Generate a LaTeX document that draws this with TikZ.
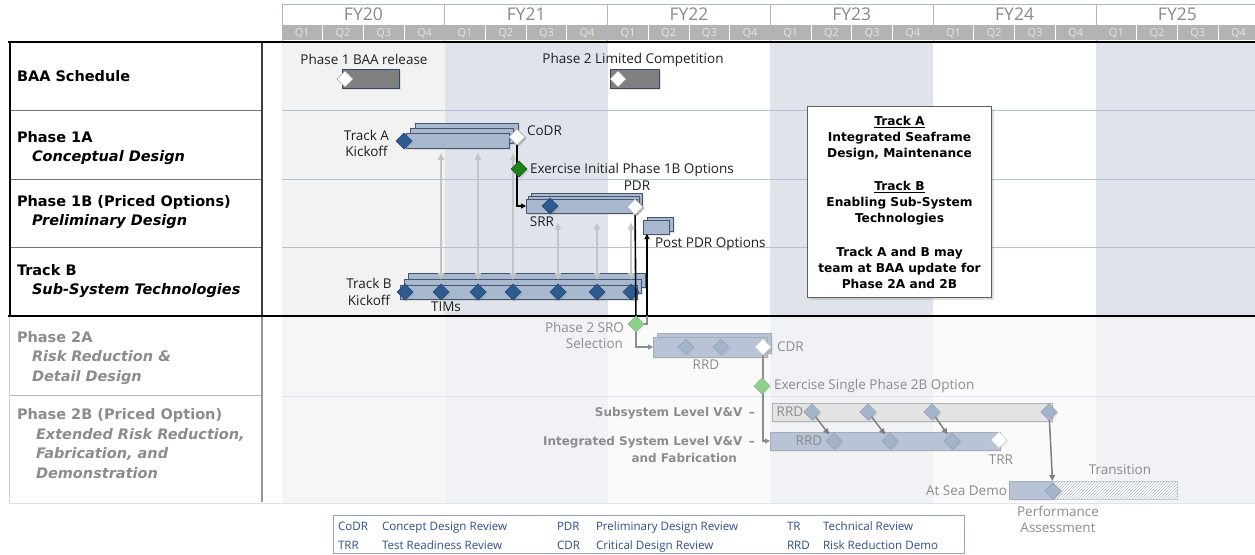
\documentclass[tikz,border=0pt]{standalone}
\usepackage{fontspec}
\setmainfont{Open Sans}
\newfontfamily\labfam{DejaVu Sans}
\usetikzlibrary{shapes.geometric,arrows.meta,shadows,patterns,calc}

% palette
\definecolor{inkA}{HTML}{1F1F1F}
\definecolor{inkF}{HTML}{8C8C8C}
\definecolor{bgGrey}{HTML}{F2F2F2}
\definecolor{bgBlue}{HTML}{DFE4EC}
\definecolor{bgGreyF}{HTML}{F6F6F6}
\definecolor{bgBlueF}{HTML}{F0F2F6}
\definecolor{bgWhiteF}{HTML}{FAFAFA}
\definecolor{gridB}{HTML}{B4C0D3}
\definecolor{gridF}{HTML}{DDE3EC}
\definecolor{hdrLine}{HTML}{A9B6C9}
\definecolor{hdrQ}{HTML}{B3B3B3}
\definecolor{hdrTxt}{HTML}{8A8A8A}
\definecolor{qTxt}{HTML}{E4E4E4}
\definecolor{barFill}{HTML}{A8B8CF}
\definecolor{barEdge}{HTML}{44556D}
\definecolor{baaFill}{HTML}{808080}
\definecolor{baaEdge}{HTML}{34496A}
\definecolor{msBlue}{HTML}{2E5B90}
\definecolor{msBlueEdge}{HTML}{214670}
\definecolor{msGreen}{HTML}{1D7F1D}
\definecolor{fBarFill}{HTML}{B8C4D5}
\definecolor{fBarEdge}{HTML}{A4ADBA}
\definecolor{fDiamond}{HTML}{A3B3CA}
\definecolor{fGreen}{HTML}{8DCF8D}
\definecolor{subFill}{HTML}{E3E3E3}
\definecolor{subEdge}{HTML}{B3B3B3}
\definecolor{timGrey}{HTML}{C4C4C4}
\definecolor{linkGrey}{HTML}{8E8E8E}
\definecolor{feedGrey}{HTML}{7F7F7F}
\definecolor{legInk}{HTML}{2F4E8C}
\definecolor{legEdge}{HTML}{8FA3C4}
\definecolor{boxEdge}{HTML}{5E5E5E}
\definecolor{hatchEdge}{HTML}{C3CAD6}
\definecolor{hatchInk}{HTML}{B0BCCD}

\tikzset{
  every node/.style={inner sep=0pt, outer sep=0pt},
  ctext/.style={font=\fontsize{13.5pt}{16pt}\selectfont, text height=9.6pt, text depth=0pt, text=inkA},
  ftext/.style={ctext, text=inkF},
  hdr/.style={font=\fontsize{17.5pt}{20pt}\selectfont, text height=12.5pt, text depth=0pt, text=hdrTxt},
  qtxt/.style={font=\fontsize{11pt}{13pt}\selectfont, text height=7.9pt, text depth=0pt, text=qTxt},
  lab/.style={font=\labfam\bfseries\fontsize{14.5pt}{17pt}\selectfont, text height=10.6pt, text depth=0pt, anchor=west, text=black},
  labit/.style={lab, font=\labfam\bfseries\itshape\fontsize{14.5pt}{17pt}\selectfont},
  flab/.style={lab, text=inkF},
  flabit/.style={labit, text=inkF},
  vvtext/.style={font=\labfam\bfseries\fontsize{12pt}{14pt}\selectfont, text height=8.8pt, text depth=0pt, text=inkF, anchor=east},
  notetext/.style={font=\labfam\bfseries\fontsize{12.2pt}{15pt}\selectfont, text height=8.9pt, text depth=0pt, text=black},
  legtext/.style={font=\fontsize{11.6pt}{14pt}\selectfont, text height=8.3pt, text depth=0pt, text=legInk, anchor=west},
  % milestones
  shade/.style={drop shadow={opacity=0.25, shadow xshift=1.5pt, shadow yshift=-1.5pt}},
  fshade/.style={drop shadow={opacity=0.10, shadow xshift=1.5pt, shadow yshift=-1.5pt}},
  ms/.style={shape=diamond, minimum width=16pt, minimum height=16pt},
  msBlueD/.style={ms, shade, fill=msBlue, draw=msBlueEdge, line width=0.6pt},
  msWhiteD/.style={ms, shade, fill=white, draw=gray!70, line width=0.6pt},
  msGreenD/.style={ms, shade, fill=msGreen, draw=msGreen!80!black, line width=0.6pt},
  msFadeD/.style={ms, fshade, fill=fDiamond, draw=fDiamond!92!black, line width=0.6pt},
  msFadeWhite/.style={ms, fshade, fill=white, draw=gray!35, line width=0.6pt},
  msFadeGreen/.style={ms, fshade, fill=fGreen, draw=fGreen!92!black, line width=0.6pt},
  % bars
  barA/.style={fill=barFill, draw=barEdge, line width=0.7pt, drop shadow={opacity=0.18, shadow xshift=2pt, shadow yshift=-2pt}},
  barBAA/.style={fill=baaFill, draw=baaEdge, line width=0.7pt, drop shadow={opacity=0.2, shadow xshift=2pt, shadow yshift=-2pt}},
  barF/.style={fill=fBarFill, draw=fBarEdge, line width=0.7pt, fshade},
  barSub/.style={fill=subFill, draw=subEdge, line width=0.7pt, fshade},
  hatchbar/.style={preaction={fill=white}, pattern=north east lines, pattern color=hatchInk, draw=hatchEdge, line width=0.7pt},
  % connectors
  conn/.style={line width=1.6pt, draw=black, -{Triangle[length=5pt,width=5pt]}},
  connF/.style={line width=1.5pt, draw=linkGrey, -{Triangle[length=5pt,width=5pt]}},
  timlink/.style={line width=1.8pt, draw=timGrey, {Triangle[length=7pt,width=6pt]}-{Triangle[length=7pt,width=6pt]}},
  feedlink/.style={line width=1.5pt, draw=feedGrey, -{Triangle[length=6pt,width=5.5pt]}},
}

% a single bar as a node, from its top-left to its bottom-right corner
\newcommand\plainbar[6]{%
  \node[#6, anchor=north west, minimum width={(#4-#2)*1pt}, minimum height={(#5-#3)*1pt}] (#1) at (#2,#3) {};}
% a bar with copies stacked behind it, each shifted right by #6 and up by #7
\newcommand\stackbar[9]{%
  \foreach \k in {#8,...,1}{%
    \draw[#9] ({#2+\k*#6},{#3-\k*#7}) rectangle ({#4+\k*#6},{#5-\k*#7});}%
  \plainbar{#1}{#2}{#3}{#4}{#5}{#9}}

\begin{document}
\begin{tikzpicture}[x=1pt, y=-1pt]
\useasboundingbox (0,0) rectangle (1255,554);
\fill[white] (0,0) rectangle (1255,554);

% ---- year shading, active rows
\fill[bgGrey]  (282,42) rectangle (444.8,316);
\fill[bgBlue]  (444.8,42) rectangle (607.6,316);
\fill[bgBlue]  (770.4,42) rectangle (933.2,316);
\fill[bgBlue]  (1096,42) rectangle (1260,316);
% ---- year shading, later phases
\fill[bgGreyF]  (282,316) rectangle (444.8,503);
\fill[bgBlueF]  (444.8,316) rectangle (607.6,503);
\fill[bgWhiteF] (607.6,316) rectangle (770.4,503);
\fill[bgBlueF]  (770.4,316) rectangle (933.2,503);
\fill[bgWhiteF] (933.2,316) rectangle (1096,503);
\fill[bgBlueF]  (1096,316) rectangle (1260,503);

% ---- row grid
\foreach \y in {110.5,179,247.5}{
  \draw[gridB, line width=0.8pt] (282,\y) -- (1255,\y);
  \draw[black!55, line width=0.9pt] (9.5,\y) -- (262,\y);
}
\draw[gridF, line width=0.8pt] (282,396) -- (1255,396);
\draw[black!28, line width=0.9pt] (9,395) -- (262,395);
\draw[gridF, line width=0.9pt] (9,503.5) -- (1255,503.5);
\draw[black!18, line width=0.9pt] (9,316) -- (9,503.5);
\draw[black!40, line width=1.1pt] (262,316) -- (262,502);

% ---- timeline header
\foreach \i in {0,...,5}{
  \pgfmathsetmacro\xa{282+162.8*\i}
  \pgfmathsetmacro\xb{\xa+162.8}
  \pgfmathsetmacro\xc{\xa+81.4}
  \pgfmathtruncatemacro\yr{20+\i}
  \draw[fill=white, draw=hdrLine, line width=0.8pt] (\xa,4.5) rectangle (\xb,24.5);
  \node[hdr] (fy\yr) at (\xc,14) {FY\yr};
  \foreach \q in {1,...,4}{
    \pgfmathsetmacro\qa{\xa+40.7*(\q-1)}
    \draw[fill=hdrQ, draw=white, line width=1pt] (\qa,24.5) rectangle ++(40.7,16);
    \node[qtxt] (q\yr\q) at (\qa+20.35,32.5) {Q\q};
  }
  \draw[hdrLine, line width=1pt] (\xa,4.5) -- (\xa,40.5);
}

% ---- label column frame and heavy rules
\draw[black!75, line width=1.2pt] (262,42) -- (262,316);
\draw[black, line width=2pt] (9.5,42) -- (9.5,316);
\draw[black, line width=2.5pt] (8,42) -- (1255,42);
\draw[black, line width=2.5pt] (8,316) -- (1255,316);

% ---- row labels
\node[lab]   (lBAA) at (17,76)  {BAA Schedule};
\node[lab]   (l1A)  at (17,137) {Phase 1A};
\node[labit] (l1Ad) at (32,156) {Conceptual Design};
\node[lab]   (l1B)  at (17,201) {Phase 1B (Priced Options)};
\node[labit] (l1Bd) at (32,220) {Preliminary Design};
\node[lab]   (lTB)  at (17,270) {Track B};
\node[labit] (lTBd) at (32,289) {Sub-System Technologies};
\node[flab]   (l2A)  at (17,337) {Phase 2A};
\node[flabit] (l2Ad) at (32,356) {Risk Reduction \&};
\node[flabit] (l2Ae) at (32,376) {Detail Design};
\node[flab]   (l2B)  at (17,414) {Phase 2B (Priced Option)};
\node[flabit] (l2Bd) at (36,434) {Extended Risk Reduction,};
\node[flabit] (l2Be) at (36,453) {Fabrication, and};
\node[flabit] (l2Bf) at (36,473) {Demonstration};

% ---- bars
\plainbar{baa1}{342}{69}{399}{88}{barBAA}
\plainbar{baa2}{610}{69}{659}{88}{barBAA}
\stackbar{p1a}{406}{133}{509}{148}{4.5}{5}{2}{barA}
\stackbar{p1b}{526}{199}{637}{213}{2.5}{3}{2}{barA}
\stackbar{ppdr}{643}{220}{669}{234}{4}{3}{1}{barA}
\stackbar{tb}{400}{285}{637}{299}{4}{6}{2}{barA}
\stackbar{p2a}{653}{337}{767}{357}{4}{4}{1}{barF}
\plainbar{sub}{772}{403}{1052}{421}{barSub}
\plainbar{ivv}{770}{432}{1000}{450}{barF}
\plainbar{sea}{1009}{481}{1053}{499}{barF}
\plainbar{trans}{1053}{481}{1177}{499}{hatchbar}

% ---- milestones (placed first so links can refer to them)
\node[msWhiteD] (mBAA1) at (345,79) {};
\node[msWhiteD] (mBAA2) at (618,79) {};
\node[msBlueD]  (ka)    at (404,141) {};
\node[msWhiteD] (codr)  at (517,137) {};
\node[msBlueD]  (srr)   at (550,206) {};
\node[msWhiteD] (pdr)   at (635,207) {};
\foreach \x [count=\n] in {405,441,478,513,558,597,631}
  \node[msBlueD] (tim\n) at (\x,292) {};
\node[msFadeD]     (r1)   at (686,347) {};
\node[msFadeD]     (r2)   at (721,347) {};
\node[msFadeWhite] (cdr)  at (763,347) {};
\node[msFadeD] (s1) at (812,412) {};
\node[msFadeD] (s2) at (868,412) {};
\node[msFadeD] (s3) at (932,412) {};
\node[msFadeD] (s4) at (1049,412) {};
\node[msFadeD] (i1) at (834,441) {};
\node[msFadeD] (i2) at (890,441) {};
\node[msFadeD] (i3) at (952,441) {};
\node[msFadeWhite] (trr) at (999,440) {};
\node[msFadeD] (asd) at (1053,491) {};

% ---- links
\draw[conn] (codr.center) |- (p1b.west);
\coordinate (sroPt) at (636,324);
\coordinate (ppdrIn) at ($(ppdr.south west)+(4,0)$);
\begin{scope}
  \clip (0,0) rectangle (1255,316);
  \draw[conn, -] (pdr.center) -- (sroPt);
  \draw[conn] (sroPt) -| (ppdrIn);
\end{scope}
\begin{scope}
  \clip (0,316) rectangle (1255,554);
  \draw[connF, -] (pdr.center) -- (sroPt);
  \draw[connF, -] (sroPt) -| (ppdrIn);
\end{scope}
\draw[connF] (sroPt) |- (p2a.west);
\draw[connF] (cdr.center) |- (ivv.west);
\foreach \n in {2,3,4}
  \draw[timlink] ($(tim\n |- p1a.south)+(0,5)$) -- ($(tim\n |- tb.north)+(0,-5)$);
\foreach \n in {5,6,7}
  \draw[timlink] ($(tim\n |- p1b.south)+(0,9.5)$) -- ($(tim\n |- tb.north)+(0,-5)$);
\draw[feedlink, shorten >=8pt] (s1.center) -- (i1.center);
\draw[feedlink, shorten >=8pt] (s2.center) -- (i2.center);
\draw[feedlink, shorten >=8pt] (s3.center) -- (i3.center);
\draw[feedlink, shorten >=10pt] (s4.center) -- (asd.center);

% redraw milestones that sit on links
\node[msGreenD]    (ex1b) at (519,169) {};
\node[msFadeGreen] (sro)  at (sroPt) {};
\node[msFadeGreen] (ex2b) at (762,386) {};
\foreach \n in {1,2,3}{\node[msFadeD] at (s\n) {}; \node[msFadeD] at (i\n) {};}
\node[msFadeD] at (s4) {};
\node[msFadeD] at (asd) {};
\node[msFadeWhite] at (cdr) {};
\node[msWhiteD] at (codr) {};
\node[msWhiteD] at (pdr) {};

% ---- chart labels
\node[ctext] (tBAA1) at (364,60) {Phase 1 BAA release};
\node[ctext] (tBAA2) at (633,59) {Phase 2 Limited Competition};
\node[ctext] (tKA1) at (366.5,135.5) {Track A};
\node[ctext] (tKA2) at (366.5,151.5) {Kickoff};
\node[ctext, anchor=west] (tCoDR) at (527,131) {CoDR};
\node[ctext, anchor=west] (tEx1B) at (530,169) {Exercise Initial Phase 1B Options};
\node[ctext] (tPDR) at (637,186) {PDR};
\node[ctext] (tSRR) at (542,222) {SRR};
\node[ctext, anchor=west] (tPost) at (655,243) {Post PDR Options};
\node[ctext] (tKB1) at (369,284) {Track B};
\node[ctext] (tKB2) at (369,300.5) {Kickoff};
\node[ctext] (tTIM) at (446,307) {TIMs};

\node[ftext, anchor=east] (tSRO1) at (624,327.5) {Phase 2 SRO};
\node[ftext, anchor=east] (tSRO2) at (623,344) {Selection};
\node[ftext, anchor=west] (tCDR) at (777,347) {CDR};
\node[ftext] (tRRD1) at (706,365) {RRD};
\node[ftext, anchor=west] (tEx2B) at (774,385) {Exercise Single Phase 2B Option};
\node[vvtext] (tSubVV) at (755,412.5) {Subsystem Level V\&V\hspace{0.55em}–};
\node[vvtext] (tIntVV) at (755,441.5) {Integrated System Level V\&V\hspace{0.55em}–};
\node[vvtext] (tFab) at (737,458) {and Fabrication};
\node[ftext] (tRRD2) at (790,412) {RRD};
\node[ftext] (tRRD3) at (809,440.5) {RRD};
\node[ftext] (tTRR) at (1001,460) {TRR};
\node[ftext, anchor=east] (tSea) at (1007,491) {At Sea Demo};
\node[ftext] (tTrans) at (1120,470) {Transition};
\node[ftext] (tPerf1) at (1058,512) {Performance};
\node[ftext] (tPerf2) at (1058,528) {Assessment};

% ---- track note
\node[draw=boxEdge, line width=1pt, fill=white, anchor=north west,
      minimum width=184pt, minimum height=191pt,
      drop shadow={opacity=0.25, shadow xshift=2pt, shadow yshift=-2pt}] (note) at (807.5,106.5) {};
\foreach \y/\t [count=\n] in {121/{\underline{Track A}}, 137/{Integrated Seaframe}, 153/{Design, Maintenance},
    186.5/{\underline{Track B}}, 202.5/{Enabling Sub-System}, 218.5/{Technologies},
    252.5/{Track A and B may}, 268.5/{team at BAA update for}, 284.5/{Phase 2A and 2B}}
  \node[notetext] (note\n) at (899.5,\y) {\t};

% ---- legend
\node[draw=legEdge, line width=1pt, anchor=north west, minimum width=631pt, minimum height=37.5pt] (legend) at (333,515.5) {};
\node[legtext] (lg1) at (338,526) {CoDR};
\node[legtext] (lg2) at (382,526) {Concept Design Review};
\node[legtext] (lg3) at (557,526) {PDR};
\node[legtext] (lg4) at (596,526) {Preliminary Design Review};
\node[legtext] (lg5) at (787,526) {TR};
\node[legtext] (lg6) at (823,526) {Technical Review};
\node[legtext] (lg7) at (338,545) {TRR};
\node[legtext] (lg8) at (382,545) {Test Readiness Review};
\node[legtext] (lg9) at (557,545) {CDR};
\node[legtext] (lg10) at (596,545) {Critical Design Review};
\node[legtext] (lg11) at (787,545) {RRD};
\node[legtext] (lg12) at (823,545) {Risk Reduction Demo};
\end{tikzpicture}
\end{document}
